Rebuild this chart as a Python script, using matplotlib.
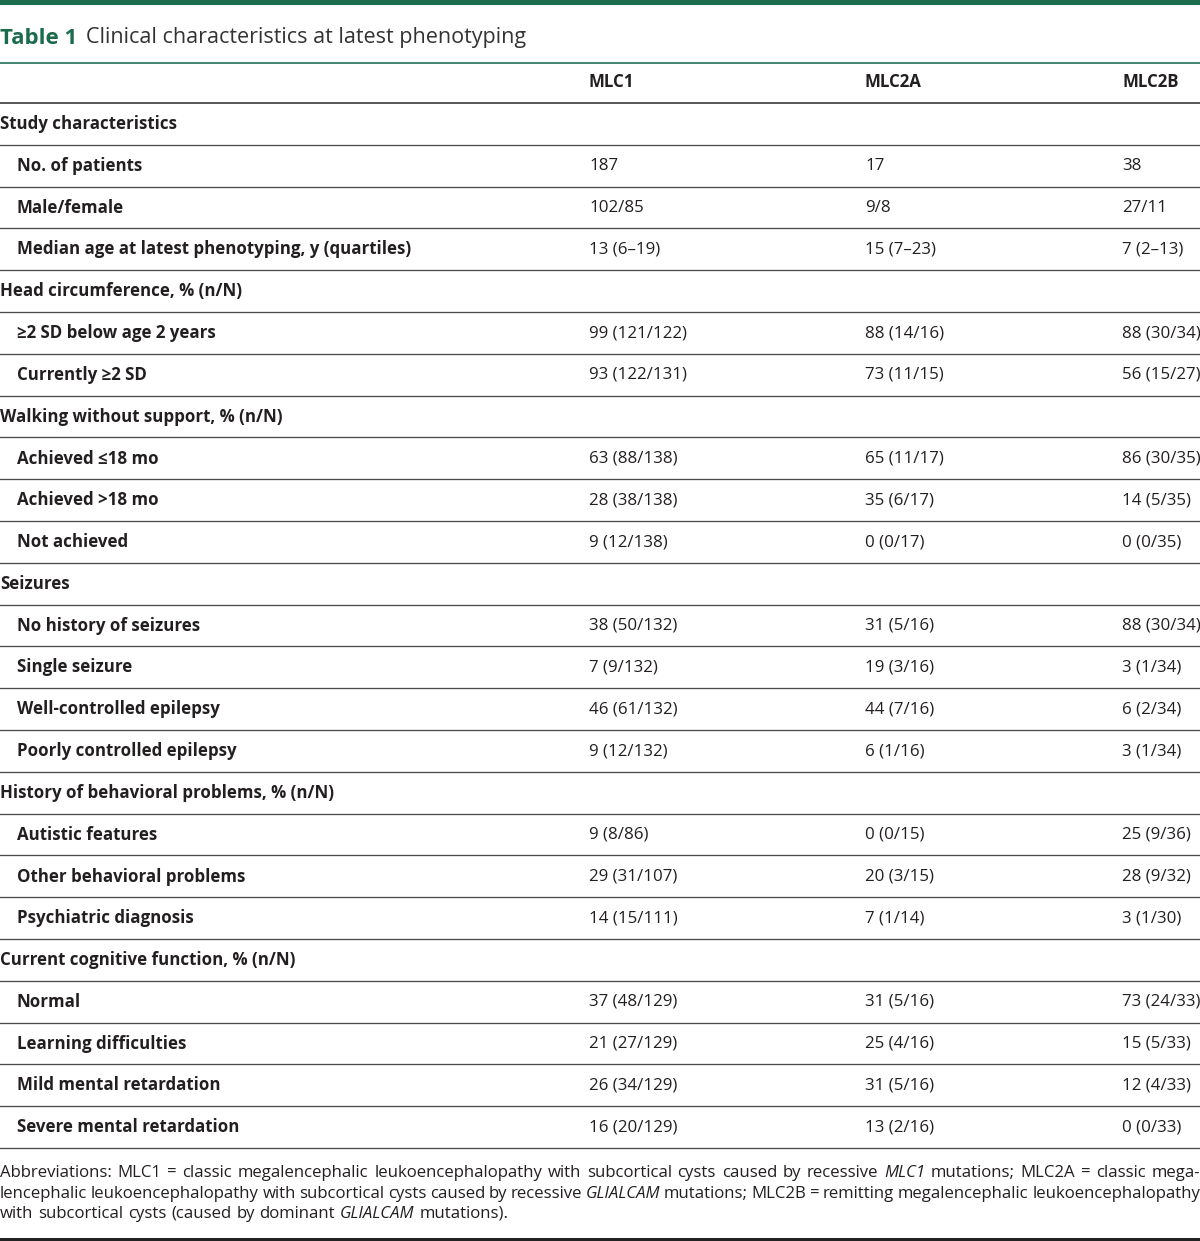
import matplotlib
matplotlib.use('Agg')
import matplotlib.pyplot as plt

# ---------------- data ----------------
title_label = 'Table 1'
title_text = 'Clinical characteristics at latest phenotyping'
col_headers = ['MLC1', 'MLC2A', 'MLC2B']

row_labels = [
    'Study characteristics',
    'No. of patients',
    'Male/female',
    'Median age at latest phenotyping, y (quartiles)',
    'Head circumference, % (n/N)',
    '≥2 SD below age 2 years',
    'Currently ≥2 SD',
    'Walking without support, % (n/N)',
    'Achieved ≤18 mo',
    'Achieved >18 mo',
    'Not achieved',
    'Seizures',
    'No history of seizures',
    'Single seizure',
    'Well-controlled epilepsy',
    'Poorly controlled epilepsy',
    'History of behavioral problems, % (n/N)',
    'Autistic features',
    'Other behavioral problems',
    'Psychiatric diagnosis',
    'Current cognitive function, % (n/N)',
    'Normal',
    'Learning difficulties',
    'Mild mental retardation',
    'Severe mental retardation',
]
row_is_section = [True, False, False, False, True, False, False, True, False, False, False,
                  True, False, False, False, False, True, False, False, False, True,
                  False, False, False, False]
mlc1_values = ['', '187', '102/85', '13 (6–19)', '', '99 (121/122)', '93 (122/131)', '',
               '63 (88/138)', '28 (38/138)', '9 (12/138)', '', '38 (50/132)', '7 (9/132)',
               '46 (61/132)', '9 (12/132)', '', '9 (8/86)', '29 (31/107)', '14 (15/111)', '',
               '37 (48/129)', '21 (27/129)', '26 (34/129)', '16 (20/129)']
mlc2a_values = ['', '17', '9/8', '15 (7–23)', '', '88 (14/16)', '73 (11/15)', '',
                '65 (11/17)', '35 (6/17)', '0 (0/17)', '', '31 (5/16)', '19 (3/16)',
                '44 (7/16)', '6 (1/16)', '', '0 (0/15)', '20 (3/15)', '7 (1/14)', '',
                '31 (5/16)', '25 (4/16)', '31 (5/16)', '13 (2/16)']
mlc2b_values = ['', '38', '27/11', '7 (2–13)', '', '88 (30/34)', '56 (15/27)', '',
                '86 (30/35)', '14 (5/35)', '0 (0/35)', '', '88 (30/34)', '3 (1/34)',
                '6 (2/34)', '3 (1/34)', '', '25 (9/36)', '28 (9/32)', '3 (1/30)', '',
                '73 (24/33)', '15 (5/33)', '12 (4/33)', '0 (0/33)']

# footnote: list of lines, each a list of (word, italic)
footnote_lines = [
    [('Abbreviations:', False), ('MLC1', False), ('=', False), ('classic', False),
     ('megalencephalic', False), ('leukoencephalopathy', False), ('with', False),
     ('subcortical', False), ('cysts', False), ('caused', False), ('by', False),
     ('recessive', False), ('MLC1', True), ('mutations;', False), ('MLC2A', False),
     ('=', False), ('classic', False), ('mega-', False)],
    [('lencephalic', False), ('leukoencephalopathy', False), ('with', False),
     ('subcortical', False), ('cysts', False), ('caused', False), ('by', False),
     ('recessive', False), ('GLIALCAM', True), ('mutations;', False), ('MLC2B', False),
     ('=', False), ('remitting', False), ('megalencephalic', False),
     ('leukoencephalopathy', False)],
    [('with', False), ('subcortical', False), ('cysts', False), ('(caused', False),
     ('by', False), ('dominant', False), ('GLIALCAM', True), ('mutations).', False)],
]
footnote_justify = [True, True, False]

# ---------------- style ----------------
FONT = 'Open Sans'
GREEN = '#1b6b4d'
TXT = '#231f20'
LINE = '#4a4a4a'
W, H = 1200, 1241
DPI = 100

fig = plt.figure(figsize=(W / DPI, H / DPI), dpi=DPI)
ax = fig.add_axes([0, 0, 1, 1])
ax.set_xlim(0, W)
ax.set_ylim(H, 0)
ax.axis('off')

def px(lw):
    return lw * 72 / DPI

# top green band
ax.axhspan(0, 5, color=GREEN, lw=0)
# title
t1 = ax.text(0, 38, title_label, fontsize=16, fontfamily=FONT, fontweight='bold',
             color=GREEN, va='center', ha='left')
fig.canvas.draw()
r = fig.canvas.get_renderer()
bb = t1.get_window_extent(r)
ax.text(bb.x1 + 9, 38, title_text, fontsize=15.5, fontfamily=FONT, color='#333333',
        va='center', ha='left')
ax.axhline(62.5, color=GREEN, lw=px(1.6))

# header
col_x = [589, 865, 1122]
FS = 12.2
for x, h in zip(col_x, col_headers):
    ax.text(x, 82, h, fontsize=FS, fontfamily=FONT, fontweight='bold', color=TXT,
            va='center', ha='left')
top = 103
ax.axhline(top, color='#333333', lw=px(1.6))

step = 41.8
for i, (lab, sec) in enumerate(zip(row_labels, row_is_section)):
    y = top + (i + 0.5) * step + 0.2
    ax.text(0 if sec else 17, y, lab, fontsize=FS, fontfamily=FONT, fontweight='bold',
            color=TXT, va='center', ha='left')
    for x, v in zip(col_x, (mlc1_values[i], mlc2a_values[i], mlc2b_values[i])):
        if v:
            ax.text(x, y, v, fontsize=FS, fontfamily=FONT, color=TXT,
                    va='center', ha='left')
    ax.axhline(top + (i + 1) * step, color=LINE, lw=px(1.3))

# footnote
FFS = 12.1
fy = [1173, 1193.5, 1214]
fig.canvas.draw()
r = fig.canvas.get_renderer()
for line, just, y in zip(footnote_lines, footnote_justify, fy):
    arts = []
    for word, it in line:
        a = ax.text(0, y, word, fontsize=FFS, fontfamily=FONT,
                    fontstyle='italic' if it else 'normal', color=TXT,
                    va='center', ha='left')
        arts.append(a)
    widths = [a.get_window_extent(r).width for a in arts]
    if just:
        gap = (W - sum(widths)) / (len(arts) - 1)
    else:
        gap = 4.8
    x = 0
    for a, w in zip(arts, widths):
        a.set_x(x)
        x += w + gap

ax.axhline(1238.5, color='#222222', lw=px(3))

fig.savefig('out.png', dpi=DPI)
